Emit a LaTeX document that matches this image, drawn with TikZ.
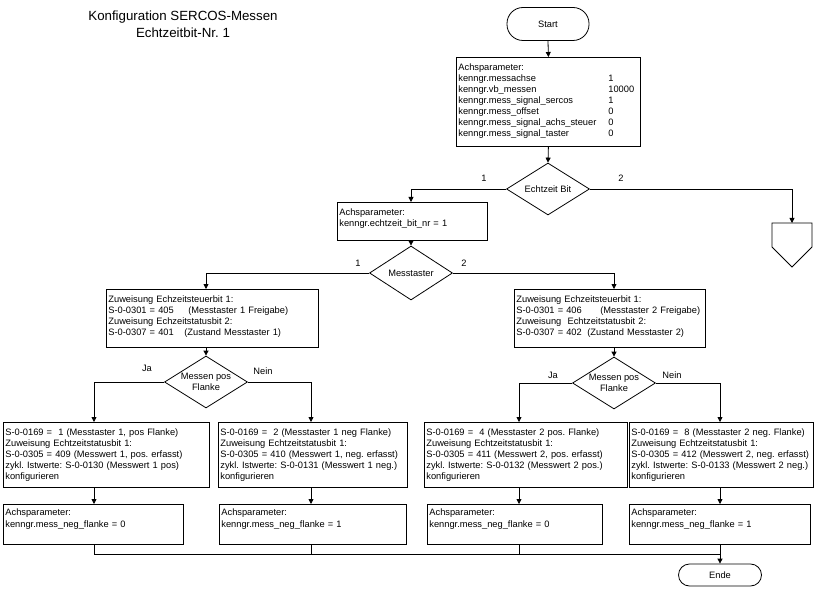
\documentclass[tikz,border=0pt]{standalone}
\usepackage{fontspec}
\setmainfont{Liberation Sans}
\usetikzlibrary{shapes.geometric,arrows.meta}
\frenchspacing

\newcommand{\parzeile}[2]{\makebox[150pt][l]{#1}#2}

\tikzset{
  kasten/.style={draw, anchor=north west, align=left, inner xsep=2pt, inner ysep=0pt,
    text height=13pt, font=\fontsize{9.3}{11.1}\selectfont},
  raute/.style={draw, diamond, aspect=1.6, inner sep=0pt, minimum width=83pt,
    minimum height=52pt, align=center, font=\fontsize{9.3}{11.1}\selectfont},
  grenze/.style={draw, font=\fontsize{9.3}{11.1}\selectfont},
  marke/.style={font=\fontsize{9.3}{11.1}\selectfont},
  pfeil/.style={-{Triangle[length=5pt,width=5pt]}},
}

\begin{document}
\begin{tikzpicture}[x=1pt, y=-1pt, line width=0.8pt]
  \useasboundingbox (0,0) rectangle (814,604);
  \node[font=\fontsize{13.3}{17}\selectfont, align=center] (titel) at (183,24)
    {Konfiguration SERCOS-Messen\\Echtzeitbit-Nr. 1};
  % Start und Grundparameter
  \node[grenze, rounded corners=16pt, minimum width=82pt, minimum height=33pt] (start) at (548,24) {Start};
  \node[kasten, text width=180pt, text depth=76pt] (par) at (456,57)
    {Achsparameter:\\
     \parzeile{kenngr.messachse}{1}\\
     \parzeile{kenngr.vb\_messen}{10000}\\
     \parzeile{kenngr.mess\_signal\_sercos}{1}\\
     \parzeile{kenngr.mess\_offset}{0}\\
     \parzeile{kenngr.mess\_signal\_achs\_steuer}{0}\\
     \parzeile{kenngr.mess\_signal\_taster}{0}};
  \node[raute] (dbit) at (548,189) {Echtzeit Bit};
  \node[kasten, text width=146pt, text depth=25pt] (bit) at (337,202)
    {Achsparameter:\\kenngr.echtzeit\_bit\_nr = 1};
  \coordinate (konn) at (792,223);
  \node[raute, minimum height=54pt] (dtast) at (411,273) {Messtaster};
  % Freigabe je Messtaster
  \node[kasten, text width=208pt, text depth=45pt] (zuw1) at (106,289)
    {Zuweisung Echzeitsteuerbit 1:\\
     \makebox[80pt][l]{S-0-0301 = 405}(Messtaster 1 Freigabe)\\
     Zuweisung Echzeitstatusbit 2:\\
     \makebox[76pt][l]{S-0-0307 = 401}(Zustand Messtaster 1)};
  \node[kasten, text width=187pt, text depth=45pt] (zuw2) at (514,289)
    {Zuweisung Echzeitsteuerbit 1:\\
     \makebox[84pt][l]{S-0-0301 = 406}(Messtaster 2 Freigabe)\\
     Zuweisung\ \ Echtzeitstatusbit 2:\\
     \makebox[71pt][l]{S-0-0307 = 402}(Zustand Messtaster 2)};
  \node[raute] (dfl1) at (206,382) {Messen pos\\Flanke};
  \node[raute] (dfl2) at (614,383) {Messen pos\\Flanke};
  % Flanken
  \node[kasten, text width=202pt, text depth=52pt] (k1) at (3,422)
    {S-0-0169 =\ \ 1 (Messtaster 1, pos Flanke)\\
     Zuweisung Echtzeitstatusbit 1:\\
     S-0-0305 = 409 (Messwert 1, pos. erfasst)\\
     zykl. Istwerte: S-0-0130 (Messwert 1 pos)\\
     konfigurieren};
  \node[kasten, text width=185pt, text depth=52pt] (k2) at (218,422)
    {S-0-0169 =\ \ 2 (Messtaster 1 neg Flanke)\\
     Zuweisung Echtzeitstatusbit 1:\\
     S-0-0305 = 410 (Messwert 1, neg. erfasst)\\
     zykl. Istwerte: S-0-0131 (Messwert 1 neg.)\\
     konfigurieren};
  \node[kasten, text width=199pt, text depth=52pt] (k3) at (424,422)
    {S-0-0169 =\ \ 4 (Messtaster 2 pos. Flanke)\\
     Zuweisung Echtzeitstatusbit 1:\\
     S-0-0305 = 411 (Messwert 2, pos. erfasst)\\
     zykl. Istwerte: S-0-0132 (Messwert 2 pos.)\\
     konfigurieren};
  \node[kasten, text width=180pt, text depth=52pt] (k4) at (629,422)
    {S-0-0169 =\ \ 8 (Messtaster 2 neg. Flanke)\\
     Zuweisung Echtzeitstatusbit 1:\\
     S-0-0305 = 412 (Messwert 2, neg. erfasst)\\
     zykl. Istwerte: S-0-0133 (Messwert 2 neg.)\\
     konfigurieren};
  \node[kasten, text height=11.5pt, text width=176pt, text depth=28.5pt] (a1) at (3,504)
    {Achsparameter:\\kenngr.mess\_neg\_flanke = 0};
  \node[kasten, text height=11.5pt, text width=183pt, text depth=28.5pt] (a2) at (219,504)
    {Achsparameter:\\kenngr.mess\_neg\_flanke = 1};
  \node[kasten, text height=11.5pt, text width=171pt, text depth=28.5pt] (a3) at (427,504)
    {Achsparameter:\\kenngr.mess\_neg\_flanke = 0};
  \node[kasten, text height=11.5pt, text width=177pt, text depth=28.5pt] (a4) at (629,504)
    {Achsparameter:\\kenngr.mess\_neg\_flanke = 1};
  \node[grenze, rounded corners=11pt, minimum width=83pt, minimum height=22pt] (ende) at (720,575) {Ende};
  % Spalten
  \coordinate (colA) at (94,0);
  \coordinate (colB) at (311,0);
  \coordinate (colC) at (519,0);
  \coordinate (colD) at (720,0);
  \coordinate (sammel) at (0,554);
  % Verbindungen
  \draw[pfeil] (start.south) -- (par.north);
  \draw[pfeil] (par.south) -- (dbit.north);
  \draw[pfeil] (dbit.west) -| (bit.north -| dtast);
  \draw[pfeil] (dbit.east) -| (konn);
  \draw (konn) -- ++(20,0) -- ++(0,24) -- ++(-20,20) -- ++(-20,-20) -- ++(0,-24) -- cycle;
  \draw[pfeil] (bit.south -| dtast) -- (dtast.north);
  \draw[pfeil] (dtast.west) -| (zuw1.north -| dfl1);
  \draw[pfeil] (dtast.east) -| (zuw2.north -| dfl2);
  \draw[pfeil] (zuw1.south -| dfl1) -- (dfl1.north);
  \draw[pfeil] (zuw2.south -| dfl2) -- (dfl2.north);
  \draw[pfeil] (dfl1.west) -| (k1.north -| colA);
  \draw[pfeil] (dfl1.east) -| (k2.north -| colB);
  \draw[pfeil] (dfl2.west) -| (k3.north -| colC);
  \draw[pfeil] (dfl2.east) -| (k4.north -| colD);
  \foreach \i/\c in {1/colA,2/colB,3/colC,4/colD}
    \draw[pfeil] (k\i.south -| \c) -- (a\i.north -| \c);
  \foreach \i/\c in {1/colA,2/colB,3/colC}
    \draw (a\i.south -| \c) -- (\c |- sammel);
  \draw (colA |- sammel) -- (colD |- sammel);
  \draw[pfeil] (a4.south -| colD) -- (ende.north);
  % Beschriftungen
  \node[marke] (w1) at (484,178) {1};
  \node[marke] (w2) at (621,178) {2};
  \node[marke] (t1) at (358,263) {1};
  \node[marke] (t2) at (464,263) {2};
  \node[marke] (ja1) at (147,368) {Ja};
  \node[marke] (nein1) at (263,371) {Nein};
  \node[marke] (ja2) at (553,375) {Ja};
  \node[marke] (nein2) at (672,375) {Nein};
\end{tikzpicture}
\end{document}
